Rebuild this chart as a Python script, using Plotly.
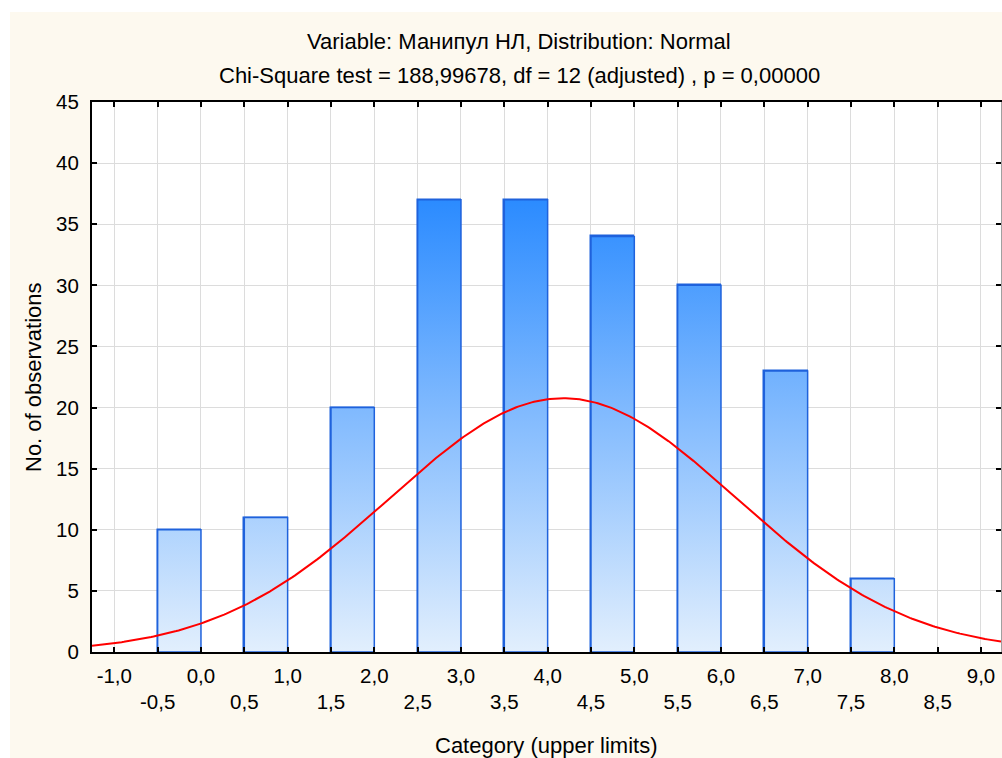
import numpy as np
import plotly.graph_objects as go

# Histogram categories (upper limits) and observed frequencies
upper_limits = [0.0, 1.0, 2.0, 3.0, 4.0, 5.0, 6.0, 7.0, 8.0]
counts = [10, 11, 20, 37, 37, 34, 30, 23, 6]
bin_width = 0.5

# Axis ticks
x_ticks = [-1.0, -0.5, 0.0, 0.5, 1.0, 1.5, 2.0, 2.5, 3.0, 3.5, 4.0,
           4.5, 5.0, 5.5, 6.0, 6.5, 7.0, 7.5, 8.0, 8.5, 9.0]
y_ticks = [0, 5, 10, 15, 20, 25, 30, 35, 40, 45]

title_1 = "Variable: Манипул НЛ, Distribution: Normal"
title_2 = "Chi-Square test = 188,99678, df = 12 (adjusted) , p = 0,00000"
x_title = "Category (upper limits)"
y_title = "No. of observations"

W, H = 1002, 758
L, R, T, B = 92, 1, 102, 106
X_RANGE = [-1.2573, 9.231]
Y_RANGE = [0, 45]
FONT = "Liberation Sans, Arial, sans-serif"
FS_TICK = 20.5
FS_TITLE = 22


def px_x(px):
    return (px - L) / (W - L - R)


def px_y(py):
    return (H - B - py) / (H - T - B)


def fmt(v):
    s = f"{v:.1f}".replace(".", ",")
    return s if abs(v * 2) % 2 == 0 else "<br>" + s


# Fitted normal curve (expected counts per category)
u = np.array(upper_limits)
c = np.array(counts)
n = c.sum()
mean = (u * c).sum() / n
sd = np.sqrt(((u - mean) ** 2 * c).sum() / (n - 1))
xc = np.linspace(X_RANGE[0], X_RANGE[1], 400)
yc = n * bin_width * np.exp(-0.5 * ((xc - mean) / sd) ** 2) / (sd * np.sqrt(2 * np.pi))

# Gradient-filled bar bodies
px_, py_ = [], []
for ul, cnt in zip(upper_limits, counts):
    x0, x1 = ul - bin_width, ul
    px_ += [x0, x0, x1, x1, x0, None]
    py_ += [0, cnt, cnt, 0, 0, None]

fig = go.Figure()
fig.add_trace(go.Bar(
    x=upper_limits, y=counts, width=bin_width, offset=-bin_width,
    marker=dict(color="rgba(0,0,0,0)", line=dict(color="#1f62dc", width=1.5)),
    hoverinfo="x+y", showlegend=False,
))
fig.add_trace(go.Scatter(
    x=px_, y=py_, mode="lines", fill="toself",
    line=dict(color="#1f62dc", width=1.5),
    fillgradient=dict(type="vertical", start=0, stop=37,
                      colorscale=[[0, "#e2effd"], [1, "#2b8bff"]]),
    hoverinfo="skip", showlegend=False,
))
fig.add_trace(go.Scatter(
    x=xc, y=yc, mode="lines", line=dict(color="#ff0000", width=2),
    yaxis="y2", hoverinfo="skip", showlegend=False,
))

cream = "#fdf9ef"
fig.update_layout(
    width=W, height=H,
    margin=dict(l=L, r=R, t=T, b=B, pad=0),
    paper_bgcolor=cream, plot_bgcolor="white",
    font=dict(family=FONT, size=FS_TICK, color="#000"),
    bargap=0,
    xaxis=dict(
        range=X_RANGE, tickmode="array", tickvals=x_ticks,
        ticktext=[fmt(v) for v in x_ticks],
        ticks="inside", ticklen=5, tickcolor="#000", tickwidth=1.5,
        showline=True, linecolor="#000", linewidth=2, mirror="ticks",
        showgrid=True, gridcolor="#dcdcdc", gridwidth=1,
        zeroline=False, ticklabelstandoff=4,
        tickfont=dict(family=FONT, size=FS_TICK),
    ),
    yaxis=dict(
        range=Y_RANGE, tickmode="array", tickvals=y_ticks,
        ticks="inside", ticklen=5, tickcolor="#000", tickwidth=1.5,
        showline=True, linecolor="#000", linewidth=2,
        showgrid=True, gridcolor="#dcdcdc", gridwidth=1,
        zeroline=False, ticklabelstandoff=7,
        tickfont=dict(family=FONT, size=FS_TICK),
    ),
    yaxis2=dict(
        range=Y_RANGE, overlaying="y", side="right", tickmode="array",
        tickvals=y_ticks, ticks="inside", ticklen=5, tickcolor="#000",
        tickwidth=1.5, showline=True, linecolor="#a0a0a0", linewidth=1,
        showgrid=False, zeroline=False, showticklabels=False,
    ),
    shapes=[
        # white margins around the cream panel
        dict(type="rect", xref="paper", yref="paper", layer="above",
             x0=px_x(0), x1=px_x(W), y0=px_y(12), y1=px_y(0),
             fillcolor="white", line=dict(width=0)),
        dict(type="rect", xref="paper", yref="paper", layer="above",
             x0=px_x(0), x1=px_x(10), y0=px_y(H), y1=px_y(0),
             fillcolor="white", line=dict(width=0)),
    ],
    annotations=[
        dict(text=title_1, x=px_x(519), y=px_y(42), xref="paper", yref="paper",
             showarrow=False, xanchor="center", yanchor="middle",
             font=dict(family=FONT, size=FS_TITLE)),
        dict(text=title_2, x=px_x(519), y=px_y(75), xref="paper", yref="paper",
             showarrow=False, xanchor="center", yanchor="middle",
             font=dict(family=FONT, size=FS_TITLE)),
        dict(text=x_title, x=px_x(546), y=px_y(745), xref="paper", yref="paper",
             showarrow=False, xanchor="center", yanchor="middle",
             font=dict(family=FONT, size=FS_TITLE)),
        dict(text=y_title, x=px_x(33), y=px_y(377), xref="paper", yref="paper",
             showarrow=False, xanchor="center", yanchor="middle", textangle=-90,
             font=dict(family=FONT, size=FS_TITLE)),
    ],
)

fig.write_html("out.html")
